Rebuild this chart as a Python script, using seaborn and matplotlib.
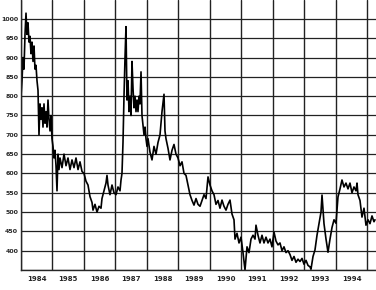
import matplotlib
matplotlib.use("Agg")
import matplotlib.pyplot as plt
import seaborn as sns
import pandas as pd
import numpy as np

# time in years after 1 Jan 1984, and price values
t_offsets = [0.000, 0.032, 0.063, 0.095, 0.127, 0.159, 0.190, 0.222, 0.254, 0.286,
             0.317, 0.349, 0.381, 0.413, 0.444, 0.476, 0.508, 0.540, 0.571, 0.603,
             0.635, 0.667, 0.698, 0.730, 0.762, 0.794, 0.825, 0.857, 0.889, 0.921,
             0.952, 0.984, 1.016, 1.048, 1.079, 1.111, 1.143, 1.175, 1.206, 1.238,
             1.302, 1.365, 1.429, 1.492, 1.556, 1.619, 1.683, 1.746, 1.810, 1.873,
             1.937, 2.000, 2.063, 2.127, 2.190, 2.254, 2.286, 2.349, 2.413, 2.476,
             2.540, 2.571, 2.635, 2.698, 2.730, 2.762, 2.825, 2.889, 2.952, 3.016,
             3.079, 3.143, 3.175, 3.206, 3.238, 3.270, 3.302, 3.333, 3.365, 3.397,
             3.429, 3.460, 3.492, 3.524, 3.556, 3.587, 3.619, 3.651, 3.683, 3.714,
             3.746, 3.778, 3.810, 3.841, 3.873, 3.905, 3.937, 3.968, 4.000, 4.032,
             4.095, 4.159, 4.222, 4.286, 4.349, 4.413, 4.476, 4.540, 4.571, 4.603,
             4.667, 4.730, 4.794, 4.857, 4.921, 4.984, 5.048, 5.111, 5.175, 5.238,
             5.302, 5.365, 5.429, 5.492, 5.556, 5.619, 5.683, 5.746, 5.810, 5.873,
             5.937, 6.000, 6.063, 6.127, 6.190, 6.254, 6.317, 6.381, 6.444, 6.508,
             6.571, 6.635, 6.698, 6.762, 6.794, 6.857, 6.921, 6.984, 7.048, 7.111,
             7.175, 7.238, 7.302, 7.365, 7.429, 7.460, 7.524, 7.587, 7.651, 7.714,
             7.778, 7.841, 7.905, 7.968, 8.032, 8.095, 8.159, 8.222, 8.286, 8.349,
             8.413, 8.476, 8.540, 8.603, 8.667, 8.730, 8.794, 8.857, 8.921, 8.984,
             9.048, 9.111, 9.175, 9.206, 9.270, 9.333, 9.397, 9.460, 9.524, 9.556,
             9.619, 9.683, 9.746, 9.810, 9.873, 9.937, 10.000, 10.063, 10.127, 10.190,
             10.254, 10.317, 10.381, 10.444, 10.508, 10.571, 10.635, 10.667, 10.698, 10.762,
             10.825, 10.889, 10.952, 11.016, 11.079, 11.143, 11.206, 11.238]
values = [800, 840, 900, 870, 960, 1015, 960, 990, 940, 955,
          910, 940, 890, 930, 870, 880, 840, 815, 700, 780,
          740, 770, 720, 780, 730, 760, 720, 790, 740, 710,
          750, 690, 670, 640, 660, 620, 555, 650, 610, 640,
          615, 650, 620, 640, 610, 635, 615, 640, 610, 630,
          605, 600, 580, 570, 540, 525, 505, 520, 500, 515,
          510, 535, 555, 575, 595, 570, 545, 570, 550, 545,
          565, 555, 583, 600, 680, 800, 900, 980, 790, 840,
          760, 800, 750, 890, 820, 770, 800, 760, 790, 760,
          800, 780, 863, 750, 725, 700, 720, 690, 670, 690,
          655, 635, 670, 650, 680, 700, 760, 805, 710, 690,
          665, 635, 660, 675, 650, 640, 620, 630, 600, 595,
          570, 545, 530, 518, 535, 520, 515, 530, 545, 535,
          591, 570, 555, 545, 520, 530, 510, 531, 515, 505,
          520, 531, 495, 480, 430, 445, 420, 435, 395, 350,
          410, 395, 430, 440, 430, 466, 440, 420, 440, 420,
          435, 420, 430, 410, 448, 425, 415, 420, 400, 410,
          395, 400, 390, 375, 385, 370, 378, 372, 380, 365,
          375, 362, 358, 352, 385, 402, 440, 470, 500, 544,
          470, 430, 396, 430, 460, 480, 471, 539, 560, 583,
          565, 575, 560, 575, 550, 565, 555, 575, 545, 530,
          487, 510, 466, 480, 470, 490, 475, 480]

start_year = 1984
year_labels = ["1984", "1985", "1986", "1987", "1988", "1989", "1990",
               "1991", "1992", "1993", "1994"]
y_ticks = [400, 450, 500, 550, 600, 650, 700, 750, 800, 850, 900, 950, 1000]

n = min(len(t_offsets), len(values))
df = pd.DataFrame({"year": [start_year + t for t in t_offsets[:n]],
                   "price": values[:n]})

sns.set_style("white")
fig = plt.figure(figsize=(3.76, 2.90), dpi=100)
ax = fig.add_axes([21 / 376, 20 / 290, 1 - 21 / 376, 270 / 290])

sns.lineplot(data=df, x="year", y="price", ax=ax, color="black", linewidth=1.2)

ax.set_xlim(1984.0, 1995.27)
ax.set_ylim(350, 1049)

# gridlines
for yv in [350] + y_ticks:
    ax.axhline(yv, color="#222222", linewidth=0.9, zorder=0)
for i in range(12):
    ax.axvline(start_year + i, color="#222222", linewidth=1.0, zorder=0)

ax.set_yticks(y_ticks)
ax.set_yticklabels([str(v) for v in y_ticks], fontsize=4.5, fontweight="bold")
ax.set_xticks([start_year + 0.5 + i for i in range(len(year_labels))])
ax.set_xticklabels(year_labels, fontsize=5, fontweight="bold")
ax.set_xticks(np.arange(1984, 1995.27, 1 / 12), minor=True)
ax.tick_params(axis="x", which="major", length=0, pad=4)
ax.tick_params(axis="x", which="minor", length=3, direction="in", width=0.6, color="black")
ax.tick_params(axis="y", length=0, pad=2)
ax.set_xlabel("")
ax.set_ylabel("")
for s in ["top", "right"]:
    ax.spines[s].set_visible(False)
ax.spines["left"].set_linewidth(1.0)
ax.spines["bottom"].set_linewidth(1.0)

fig.savefig("out.png", dpi=100)
